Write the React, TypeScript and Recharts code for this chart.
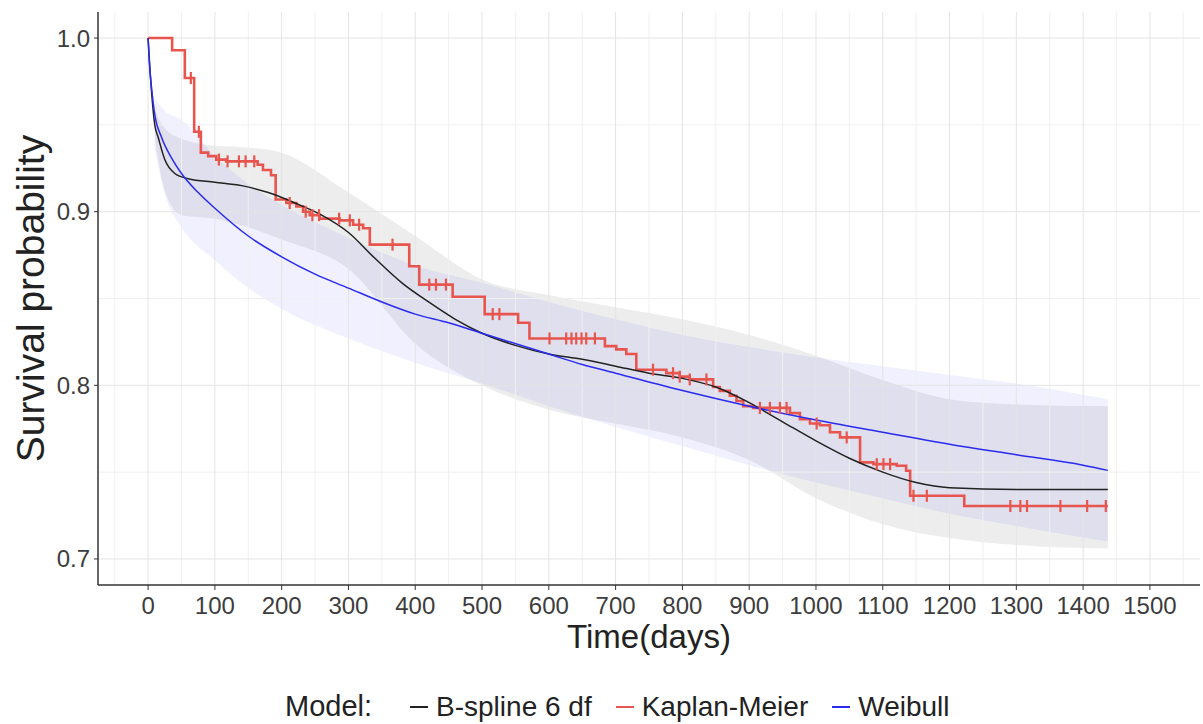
// Survival curves: Kaplan-Meier vs B-spline (6 df) vs Weibull, with confidence bands.
import { ComposedChart, Line, Area, Scatter, XAxis, YAxis, ReferenceLine } from 'recharts';

// Kaplan-Meier steps (time, survival)
const kmT = [0, 36, 55, 69, 79, 90, 102, 117, 164, 172, 184, 191, 207, 222, 232, 242, 257, 287, 307, 322, 332, 391, 406, 456, 504, 554, 571, 684, 701, 716, 731, 776, 796, 811, 846, 856, 871, 881, 891, 906, 961, 976, 991, 1006, 1021, 1036, 1066, 1086, 1121, 1135, 1141, 1222, 1437];
const kmS = [1.0, 0.993, 0.977, 0.946, 0.934, 0.932, 0.93, 0.929, 0.927, 0.924, 0.921, 0.907, 0.905, 0.903, 0.9, 0.898, 0.896, 0.895, 0.8925, 0.8905, 0.881, 0.8686, 0.858, 0.851, 0.841, 0.836, 0.827, 0.8226, 0.8207, 0.818, 0.809, 0.807, 0.805, 0.8034, 0.799, 0.7968, 0.794, 0.791, 0.788, 0.787, 0.784, 0.7805, 0.778, 0.777, 0.773, 0.77, 0.7556, 0.7546, 0.7537, 0.7508, 0.7364, 0.7305, 0.7305];

// censored observations on the KM curve
const censorT = [64, 76, 106, 119, 136, 146, 159, 212, 236, 246, 256, 286, 302, 316, 366, 421, 431, 446, 516, 526, 601, 626, 634, 641, 649, 656, 669, 756, 786, 796, 811, 836, 916, 931, 946, 956, 1001, 1046, 1091, 1101, 1111, 1146, 1166, 1291, 1306, 1316, 1366, 1406, 1434];
const censorS = [0.977, 0.946, 0.93, 0.929, 0.929, 0.929, 0.929, 0.905, 0.9, 0.898, 0.898, 0.896, 0.895, 0.8925, 0.881, 0.858, 0.858, 0.858, 0.841, 0.841, 0.827, 0.827, 0.827, 0.827, 0.827, 0.827, 0.827, 0.809, 0.807, 0.805, 0.8034, 0.8034, 0.787, 0.787, 0.787, 0.787, 0.778, 0.77, 0.7546, 0.7546, 0.7546, 0.7364, 0.7364, 0.7305, 0.7305, 0.7305, 0.7305, 0.7305, 0.7305];

// Weibull fit
const wbT = [0, 2, 5, 10, 20, 35, 50, 75, 100, 150, 200, 250, 300, 350, 400, 450, 500, 600, 650, 700, 800, 900, 1000, 1100, 1200, 1300, 1400, 1437];
const wbS = [1.0, 0.985, 0.972, 0.956, 0.943, 0.931, 0.922, 0.911, 0.902, 0.886, 0.874, 0.864, 0.856, 0.848, 0.841, 0.836, 0.83, 0.818, 0.812, 0.807, 0.797, 0.788, 0.78, 0.773, 0.766, 0.76, 0.754, 0.751];

// B-spline 6 df fit
const bsT = [0, 5, 10, 15, 25, 40, 60, 100, 140, 180, 220, 260, 300, 340, 380, 420, 460, 500, 550, 600, 650, 700, 750, 800, 850, 900, 950, 1000, 1050, 1100, 1150, 1200, 1300, 1437];
const bsS = [1.0, 0.97, 0.95, 0.943, 0.93, 0.922, 0.919, 0.917, 0.915, 0.911, 0.905, 0.898, 0.888, 0.873, 0.859, 0.848, 0.838, 0.83, 0.823, 0.818, 0.815, 0.811, 0.807, 0.804, 0.799, 0.79, 0.779, 0.768, 0.758, 0.75, 0.744, 0.741, 0.74, 0.74];

// confidence bands
const bandT = [10, 25, 50, 100, 150, 200, 300, 400, 500, 600, 700, 800, 900, 1000, 1100, 1200, 1300, 1437];
const wbLo = [0.936, 0.91, 0.891, 0.872, 0.856, 0.844, 0.827, 0.813, 0.801, 0.788, 0.776, 0.765, 0.754, 0.744, 0.735, 0.726, 0.719, 0.71];
const wbHi = [0.965, 0.958, 0.953, 0.932, 0.916, 0.904, 0.885, 0.869, 0.859, 0.848, 0.838, 0.829, 0.822, 0.816, 0.811, 0.806, 0.801, 0.792];
const bsLo = [0.942, 0.912, 0.898, 0.896, 0.891, 0.884, 0.867, 0.824, 0.8, 0.786, 0.778, 0.77, 0.757, 0.735, 0.72, 0.712, 0.708, 0.706];
const bsHi = [0.958, 0.948, 0.942, 0.938, 0.937, 0.934, 0.911, 0.886, 0.861, 0.852, 0.845, 0.838, 0.829, 0.817, 0.803, 0.792, 0.789, 0.788];

const xTicks = [0, 100, 200, 300, 400, 500, 600, 700, 800, 900, 1000, 1100, 1200, 1300, 1400, 1500];
const xMinor = [-50, 50, 150, 250, 350, 450, 550, 650, 750, 850, 950, 1050, 1150, 1250, 1350, 1450, 1550];
const yTicks = [0.7, 0.8, 0.9, 1.0];
const yMinor = [0.75, 0.85, 0.95];

const km = kmT.map((t, i) => ({ t, s: kmS[i] }));
const censor = censorT.map((t, i) => ({ t, s: censorS[i] }));
const wb = wbT.map((t, i) => ({ t, s: wbS[i] }));
const bs = bsT.map((t, i) => ({ t, s: bsS[i] }));
const wbBand = bandT.map((t, i) => ({ t, r: [wbLo[i], wbHi[i]] }));
const bsBand = bandT.map((t, i) => ({ t, r: [bsLo[i], bsHi[i]] }));

const KM_RED = '#e8554e';
const WB_BLUE = '#2b2bf0';
const FONT = '"Liberation Sans", Arial, Helvetica, sans-serif';
const tickStyle = { fontSize: 24, fontFamily: FONT, fill: '#3d3d3d' };

function CensorTick(props: any) {
  const { cx, cy } = props;
  if (cx == null || cy == null) return null;
  return <line x1={cx} x2={cx} y1={cy - 6} y2={cy + 6} stroke={KM_RED} strokeWidth={2.2} />;
}

function YTitle({ viewBox }: any) {
  const cy = viewBox.y + viewBox.height / 2;
  return (
    <text x={44} y={cy} transform={`rotate(-90 44 ${cy})`} textAnchor="middle" fontSize={39} fontFamily={FONT} fill="#222">
      Survival probability
    </text>
  );
}

function Key({ color, label }: { color: string; label: string }) {
  return (
    <div style={{ display: 'flex', alignItems: 'center', marginLeft: 24 }}>
      <div style={{ width: 18, height: 0, borderTop: `2px solid ${color}`, marginRight: 8 }} />
      <span style={{ fontSize: 28 }}>{label}</span>
    </div>
  );
}

export default function App() {
  return (
    <div style={{ position: 'absolute', left: 0, top: 0, width: 1203, height: 724, background: '#fff', fontFamily: FONT }}>
      <ComposedChart width={1203} height={724} margin={{ top: 12, right: 3, left: 0, bottom: 0 }}>
        {xMinor.map((x) => (
          <ReferenceLine key={'xm' + x} x={x} stroke="#f0f0f0" strokeWidth={1} />
        ))}
        {yMinor.map((y) => (
          <ReferenceLine key={'ym' + y} y={y} stroke="#f0f0f0" strokeWidth={1} />
        ))}
        {xTicks.map((x) => (
          <ReferenceLine key={'x' + x} x={x} stroke="#e4e4e4" strokeWidth={1} />
        ))}
        {yTicks.map((y) => (
          <ReferenceLine key={'y' + y} y={y} stroke="#e4e4e4" strokeWidth={1} />
        ))}
        <XAxis
          dataKey="t"
          type="number"
          domain={[-75, 1575]}
          ticks={xTicks}
          allowDataOverflow
          height={139}
          tick={tickStyle}
          tickSize={5}
          tickMargin={7}
          tickLine={{ stroke: '#333' }}
          axisLine={{ stroke: '#333', strokeWidth: 1.5 }}
          interval={0}
          label={{ value: 'Time(days)', position: 'insideTop', offset: 40, fontSize: 33, fontFamily: FONT, fill: '#222' }}
        />
        <YAxis
          type="number"
          domain={[0.685, 1.015]}
          ticks={yTicks}
          allowDataOverflow
          width={98}
          tick={tickStyle}
          tickSize={4}
          tickMargin={4}
          tickLine={{ stroke: '#333' }}
          axisLine={{ stroke: '#333', strokeWidth: 1.5 }}
          tickFormatter={(v: number) => v.toFixed(1)}
          label={<YTitle />}
        />
        <Area data={bsBand} dataKey="r" type="monotone" stroke="none" fill="#000000" fillOpacity={0.07} isAnimationActive={false} />
        <Area data={wbBand} dataKey="r" type="monotone" stroke="none" fill="#0000ff" fillOpacity={0.06} isAnimationActive={false} />
        <Line data={km} dataKey="s" type="stepAfter" stroke={KM_RED} strokeWidth={2.6} dot={false} activeDot={false} isAnimationActive={false} />
        <Scatter data={censor} dataKey="s" shape={<CensorTick />} isAnimationActive={false} />
        <Line data={bs} dataKey="s" type="monotone" stroke="#222222" strokeWidth={1.5} dot={false} activeDot={false} isAnimationActive={false} />
        <Line data={wb} dataKey="s" type="monotone" stroke={WB_BLUE} strokeWidth={1.5} dot={false} activeDot={false} isAnimationActive={false} />
      </ComposedChart>
      <div style={{ position: 'absolute', left: 285, top: 690, display: 'flex', alignItems: 'center', color: '#222' }}>
        <span style={{ fontSize: 29, marginRight: 14 }}>Model:</span>
        <Key color="#222222" label="B-spline 6 df" />
        <Key color={KM_RED} label="Kaplan-Meier" />
        <Key color={WB_BLUE} label="Weibull" />
      </div>
    </div>
  );
}
